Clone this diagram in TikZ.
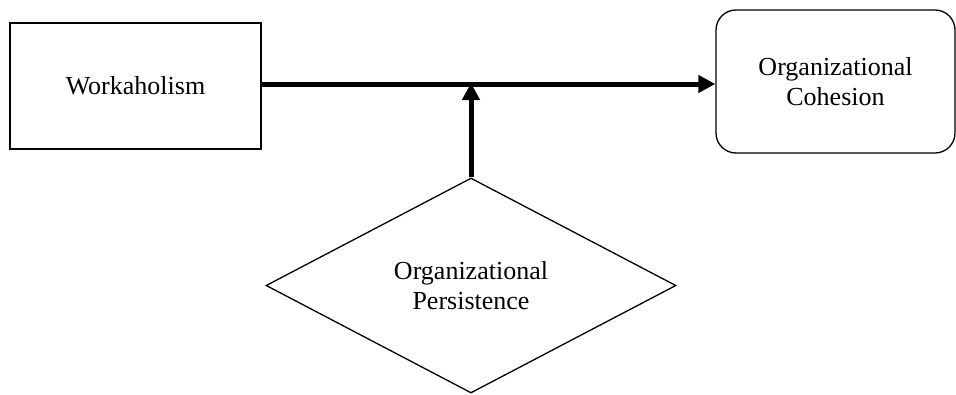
\documentclass[tikz,border=0pt]{standalone}
\usepackage{fontspec}
\setmainfont{Liberation Serif}
\usetikzlibrary{arrows.meta,shapes.geometric}
\tikzset{
  box/.style={draw=black, line width=1.3pt, fill=white, inner sep=0pt, align=center},
  link/.style={line width=5pt, -{Triangle[length=17pt,width=17pt]}},
}
\begin{document}
\begin{tikzpicture}[x=1pt,y=-1pt,font=\fontsize{26}{30}\selectfont]
\useasboundingbox (0,0) rectangle (956,394);
\node[box, minimum width=251pt, minimum height=126pt] (work) at (135.5,86) {Workaholism};
\node[box, rounded corners=20pt, minimum width=239pt, minimum height=143pt] (coh) at (835.5,81.5) {Organizational\\Cohesion};
\node[box, diamond, aspect=2, minimum width=410pt, minimum height=215pt] (pers) at (471,285.5) {Organizational\\Persistence};
\coordinate (join) at (pers.north |- 0,84);
\draw[link] (work.east |- join) -- (coh.west |- join);
\draw[link] (pers.north) -- ([yshift=1pt]join);
\end{tikzpicture}
\end{document}
